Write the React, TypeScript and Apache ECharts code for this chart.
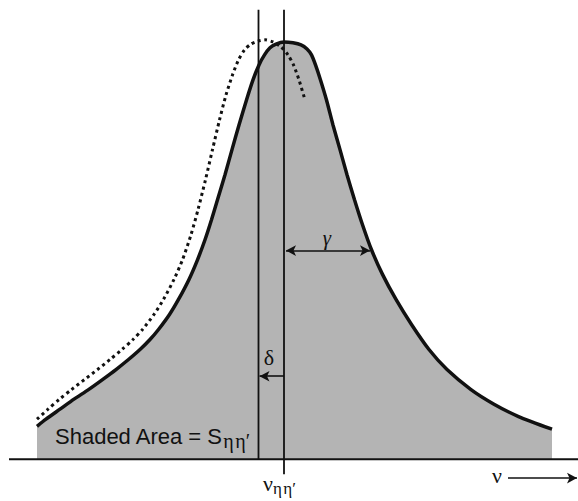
import React, { useEffect, useRef } from "react";
import * as echarts from "echarts";

// Frequency offset from line centre (arbitrary units) and normalised intensity
const solidX = [-4.94, -4.76, -4.48, -4.2, -3.91, -3.63, -3.36, -3.11, -2.88, -2.68, -2.51, -2.29, -2.11, -1.9, -1.73, -1.58, -1.45, -1.33, -1.18, -1.04, -0.9, -0.75, -0.62, -0.5, -0.39, -0.28, -0.16, 0, 0.18, 0.34, 0.46, 0.55, 0.63, 0.73, 0.85, 0.98, 1.12, 1.26, 1.41, 1.57, 1.75, 1.97, 2.24, 2.55, 2.9, 3.26, 3.74, 4.2, 4.68, 5.36];
const solidY = [0.079, 0.096, 0.12, 0.144, 0.167, 0.191, 0.215, 0.239, 0.263, 0.287, 0.311, 0.347, 0.383, 0.431, 0.478, 0.526, 0.574, 0.622, 0.682, 0.742, 0.801, 0.861, 0.909, 0.945, 0.969, 0.986, 0.995, 1.0, 0.998, 0.993, 0.983, 0.969, 0.945, 0.909, 0.861, 0.801, 0.742, 0.682, 0.622, 0.562, 0.502, 0.443, 0.383, 0.323, 0.263, 0.215, 0.167, 0.132, 0.103, 0.072];

const dottedX = [-4.94, -4.72, -4.49, -4.25, -3.99, -3.73, -3.48, -3.24, -3.02, -2.83, -2.6, -2.41, -2.2, -2.03, -1.86, -1.72, -1.57, -1.43, -1.29, -1.16, -1.03, -0.91, -0.79, -0.66, -0.52, -0.38, -0.22, -0.06, 0.08, 0.19, 0.3, 0.42];
const dottedY = [0.096, 0.12, 0.144, 0.167, 0.191, 0.215, 0.239, 0.263, 0.287, 0.311, 0.347, 0.383, 0.431, 0.478, 0.538, 0.598, 0.67, 0.742, 0.813, 0.873, 0.921, 0.957, 0.981, 0.995, 1.002, 1.005, 1.0, 0.988, 0.969, 0.945, 0.909, 0.861];

const NU_CENTER = 0;
const NU_SHIFTED = -0.51; // centre minus delta
const GAMMA_END = 1.72;
const GAMMA_LEVEL = 0.5;
const DELTA_LEVEL = 0.199;
const LINE_TOP = 1.077;
const CENTER_LINE_BOTTOM = -0.036;
const BASE_START = -5.5;
const NU_ARROW = [4.48, 5.86];
const NU_ARROW_LEVEL = -0.045;

const X_MIN = -5.68;
const X_MAX = 5.88;
const Y_MIN = -0.1;
const Y_MAX = 1.08;

const toPairs = (xs: number[], ys: number[]) => xs.map((x, i) => [x, ys[i]]);

export default function App() {
  const ref = useRef<HTMLDivElement>(null);
  useEffect(() => {
    if (!ref.current) return;
    const chart = echarts.init(ref.current, null, { renderer: "svg" });
    const black = "#111";
    const option: any = {
      animation: false,
      backgroundColor: "#fff",
      grid: { left: 0, width: 578, top: 8.56, height: 493.24 },
      xAxis: { type: "value", min: X_MIN, max: X_MAX, show: false },
      yAxis: { type: "value", min: Y_MIN, max: Y_MAX, show: false },
      series: [
        {
          type: "line",
          data: toPairs(solidX, solidY),
          smooth: 0.25,
          symbol: "none",
          lineStyle: { color: black, width: 3.5 },
          areaStyle: { color: "#b4b4b4", opacity: 1, origin: 0 },
          z: 2,
        },
        {
          type: "line",
          data: [[BASE_START, 0], [X_MAX, 0]],
          symbol: "none",
          lineStyle: { color: black, width: 2 },
          z: 3,
        },
        {
          type: "line",
          data: [[NU_SHIFTED, 0], [NU_SHIFTED, LINE_TOP]],
          symbol: "none",
          lineStyle: { color: black, width: 1.8 },
          z: 3,
        },
        {
          type: "line",
          data: [[NU_CENTER, CENTER_LINE_BOTTOM], [NU_CENTER, LINE_TOP]],
          symbol: "none",
          lineStyle: { color: black, width: 1.8 },
          z: 3,
          markLine: {
            silent: true,
            symbol: ["none", "arrow"],
            symbolSize: [8, 10],
            label: { show: false },
            lineStyle: { color: black, width: 1.6, type: "solid" },
            data: [
              [
                { coord: [NU_CENTER, DELTA_LEVEL], symbol: "none" },
                { coord: [NU_SHIFTED + 0.02, DELTA_LEVEL], symbol: "arrow" },
              ],
              [
                { coord: [NU_CENTER + 0.04, GAMMA_LEVEL], symbol: "arrow" },
                { coord: [GAMMA_END, GAMMA_LEVEL], symbol: "arrow" },
              ],
              [
                { coord: [NU_ARROW[0], NU_ARROW_LEVEL], symbol: "none" },
                { coord: [NU_ARROW[1], NU_ARROW_LEVEL], symbol: "arrow" },
              ],
            ],
          },
        },
        {
          type: "line",
          data: toPairs(dottedX, dottedY),
          smooth: 0.25,
          symbol: "none",
          lineStyle: { color: black, width: 3, type: [3, 3.5], cap: "butt" },
          z: 4,
        },
      ],
    };
    chart.setOption(option);

    const p = (x: number, y: number) =>
      chart.convertToPixel({ xAxisIndex: 0, yAxisIndex: 0 }, [x, y]) as number[];
    const serif = "'Liberation Serif', 'DejaVu Serif', serif";
    const sans = "'Liberation Sans', Arial, sans-serif";
    const txt = (pt: number[], text: string, size: number, family: string, align: string, extra: any = {}) => ({
      type: "text",
      x: pt[0],
      y: pt[1],
      z: 10,
      style: {
        text,
        fontSize: size,
        fontFamily: family,
        fill: black,
        textAlign: align,
        textVerticalAlign: "middle",
        ...extra,
      },
    });
    const rich = (mainSize: number, mainFamily: string, subSize: number, lh: number) => ({
      m: { fontSize: mainSize, fontFamily: mainFamily, lineHeight: lh, verticalAlign: "middle", fill: black },
      s: { fontSize: subSize, fontFamily: serif, lineHeight: 16, verticalAlign: "bottom", fill: black },
    });
    chart.setOption({
      graphic: [
        txt(p(0.86, 0.531), "γ", 21, serif, "center", { fontStyle: "italic" }),
        txt(p(-0.3, 0.244), "δ", 22, serif, "center"),
        txt(p(-4.58, 0.055), "{m|Shaded Area = S}{s|η\u200Aη′}", 22, sans, "left", { rich: rich(22, sans, 20, 30) }),
        txt(p(-0.42, -0.057), "{m|ν}{s|η\u200Aη′}", 22, serif, "left", { rich: rich(22, serif, 17, 28) }),
        txt(p(4.26, -0.04), "ν", 22, serif, "center"),
      ],
    });
    return () => chart.dispose();
  }, []);
  return <div ref={ref} style={{ width: 578, height: 501, position: "absolute", left: 0, top: 0 }} />;
}
